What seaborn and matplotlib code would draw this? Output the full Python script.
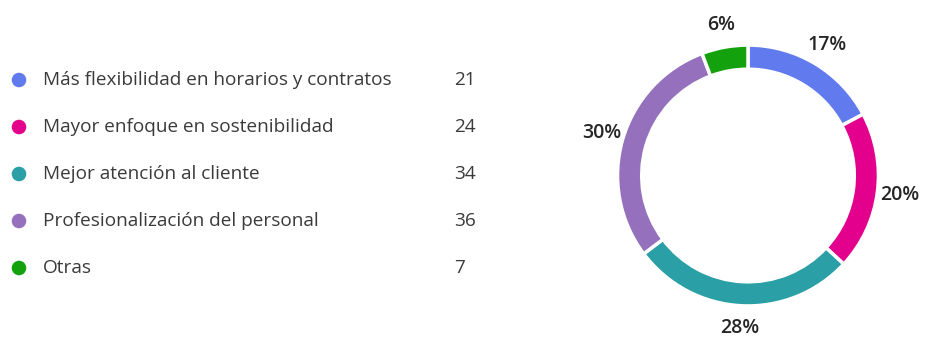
import matplotlib
matplotlib.use("Agg")
import matplotlib.pyplot as plt
import seaborn as sns
import pandas as pd

categories = [
    "Más flexibilidad en horarios y contratos",
    "Mayor enfoque en sostenibilidad",
    "Mejor atención al cliente",
    "Profesionalización del personal",
    "Otras",
]
counts = [21, 24, 34, 36, 7]
colors = ["#617BEE", "#E3008C", "#2A9FA5", "#9470BD", "#13A10E"]

sns.set_theme(style="white")
plt.rcParams["font.family"] = ["Open Sans", "DejaVu Sans"]

W, H = 925, 337
fig = plt.figure(figsize=(W / 100, H / 100), dpi=100)
fig.patch.set_facecolor("white")

# ---- legend list (left) ----
row_px = 47.0
center_y = 174.0
leg_h = row_px * len(categories)
ax_leg = fig.add_axes([0, (H - (center_y + leg_h / 2)) / H, 480 / W, leg_h / H])
df = pd.DataFrame({"cat": categories, "row": range(len(categories)), "x": [19] * len(categories)})
sns.scatterplot(data=df, x="x", y="row", hue="cat", palette=colors, s=110,
                edgecolor="none", legend=False, ax=ax_leg)
ax_leg.set_xlim(0, 480)
ax_leg.set_ylim(len(categories) - 0.5, -0.5)
for i, (cat, n) in enumerate(zip(categories, counts)):
    ax_leg.text(43, i, cat, ha="left", va="center", fontsize=13.7, color="#3a3a3a")
    ax_leg.text(454, i, str(n), ha="left", va="center", fontsize=13.7, color="#3a3a3a")
ax_leg.set_axis_off()

# ---- donut (right) ----
cx, cy, size = 748, 175.5, 300
ax_pie = fig.add_axes([(cx - size / 2) / W, (H - cy - size / 2) / H, size / W, size / H])
total = sum(counts)
wedges, texts = ax_pie.pie(
    counts, colors=colors, startangle=90, counterclock=False,
    labels=[f"{round(100 * c / total)}%" for c in counts],
    labeldistance=1.17,
    wedgeprops=dict(width=0.185, edgecolor="white", linewidth=2.5),
    textprops=dict(fontsize=14, fontweight="semibold", color="#262626"),
)
for t in texts:
    t.set_ha("center")
    t.set_va("center")
ax_pie.set_xlim(-1.15, 1.15)
ax_pie.set_ylim(-1.15, 1.15)
ax_pie.set_aspect("equal")
ax_pie.set_axis_off()

fig.savefig("out.png", dpi=100, facecolor="white")
